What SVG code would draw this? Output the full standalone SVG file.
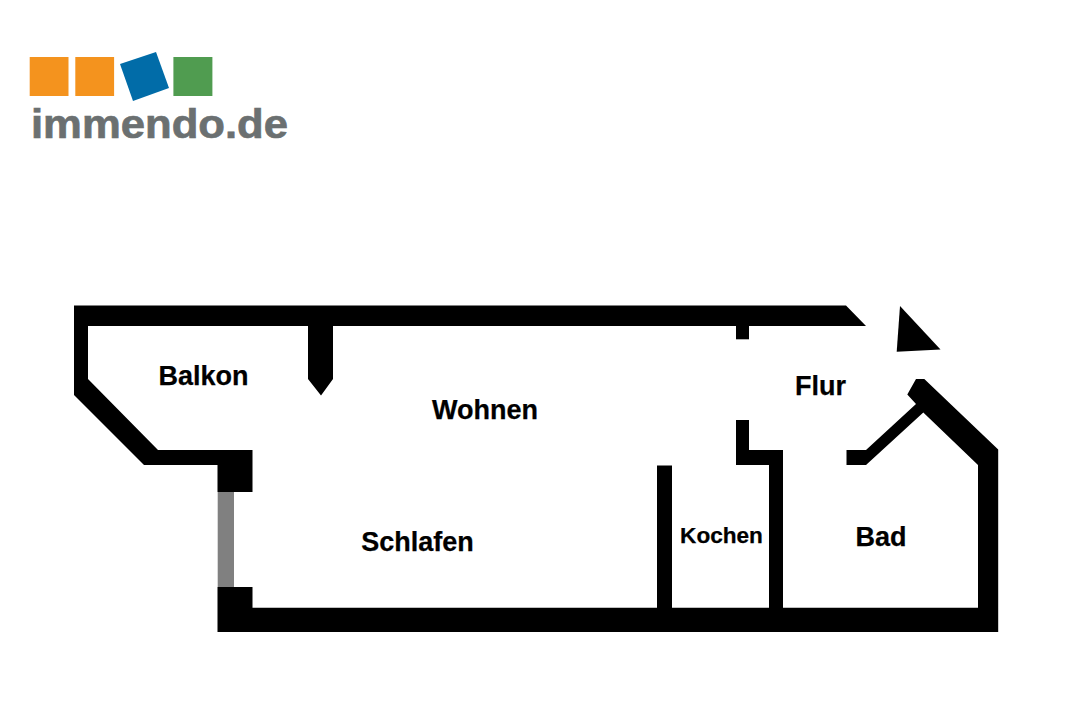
<svg xmlns="http://www.w3.org/2000/svg" width="1080" height="720" viewBox="0 0 1080 720">
<style>
.wall{fill:#000}
.room{font-family:"Liberation Sans",Arial,sans-serif;font-weight:700;font-size:27px;fill:#000;stroke:#000;stroke-width:.25;text-anchor:middle}
.logo{font-family:"Liberation Sans",Arial,sans-serif;font-weight:700;font-size:41.5px;fill:#6b7071;stroke:#6b7071;stroke-width:.7}
</style>
<rect width="1080" height="720" fill="#fff"/>
<g id="logo">
<rect x="29.7" y="57" width="38.8" height="39" fill="#f4931e"/>
<rect x="75.3" y="57" width="38.8" height="39" fill="#f4931e"/>
<polygon points="120,64 156,52 169,88 133,101" fill="#016ca8"/>
<rect x="173.4" y="57" width="39" height="39" fill="#509c50"/>
<text class="logo" x="31" y="138" textLength="257" lengthAdjust="spacingAndGlyphs">immendo.de</text>
</g>
<g id="walls">
<polygon class="wall" points="74,305.5 846,305.5 866,326 333,326 333,379 321,395.5 308,379 308,326 88,326 88,379 158,450 217.5,450 252.5,450 252.5,492 217.5,492 217.5,465 144,465 74,395"/>
<rect class="wall" x="736" y="326" width="13" height="13.3"/>
<polygon class="wall" points="736,420 749,420 749,450 783,450 783,608 769,608 769,465 736,465"/>
<rect class="wall" x="657" y="465.5" width="15" height="143"/>
<polygon class="wall" points="217.5,587 252.5,587 252.5,607.7 978,607.7 978,465 923.3,412.5 866,465 846.5,465 846.5,450 866,450 916,404 907.3,394.5 916,379 924.3,379 998.2,449.5 998.2,632 217.5,632"/>
<polygon class="wall" points="900,306 940.5,349.5 896.7,351.7"/>
</g>
<rect id="window" x="217.7" y="492" width="16.3" height="95" fill="#808080"/>
<g id="labels">
<text class="room" x="203.5" y="385">Balkon</text>
<text class="room" x="485" y="419">Wohnen</text>
<text class="room" x="417.5" y="551">Schlafen</text>
<text class="room" x="820.5" y="395">Flur</text>
<text class="room" x="881" y="546">Bad</text>
<text class="room" x="721.5" y="543" style="font-size:22.6px">Kochen</text>
</g>
</svg>
